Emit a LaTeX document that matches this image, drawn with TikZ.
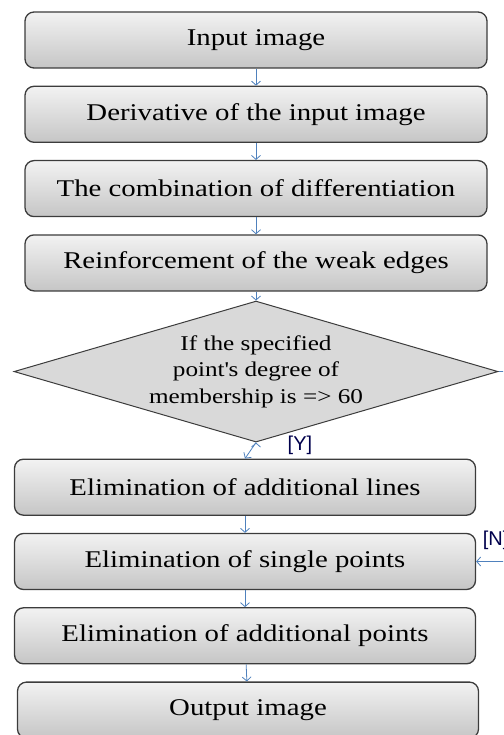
\documentclass[tikz,border=0pt]{standalone}
\usepackage{fontspec}
\setmainfont[FakeStretch=1.2]{Liberation Serif}
\newfontfamily\lblfont{Liberation Sans}
\usetikzlibrary{arrows.meta, shapes, positioning}
\definecolor{flowblue}{RGB}{79,129,189}
\definecolor{boxedge}{RGB}{60,60,60}

\begin{document}
\begin{tikzpicture}[x=1pt,y=1pt,node distance=17pt,->,>={Straight Barb[length=4pt,width=9pt]}]
	
	\tikzset{proc/.style={rectangle, rounded corners=9pt, draw=boxedge, line width=1.3pt,
			top color=gray!10, bottom color=gray!45,
			minimum width=462pt, minimum height=56pt,
			font=\fontsize{24}{27}\selectfont}}
	\tikzset{decide/.style={diamond, aspect=3.4, draw=boxedge, line width=1pt,
			fill=gray!30, inner sep=0pt, align=center,
			minimum width=484pt, minimum height=141pt,
			font=\fontsize{21}{26.5}\selectfont}}
	\tikzset{flow/.style={draw=flowblue, line width=0.8pt}}
	\tikzset{branch/.style={text=blue!30!black, font=\lblfont\fontsize{20}{22}\selectfont}}
	
	\useasboundingbox (0,0) rectangle (503,-735);
	\clip (0,0) rectangle (503,-735);
	
	\node[proc] (input) at (256,-40) {Input image};
	\node[proc, below=of input] (deriv) {Derivative of the input image};
	\node[proc, below=of deriv] (combo) {The combination of differentiation};
	\node[proc, below=of combo] (reinf) {Reinforcement of the weak edges};
	\node[decide, below=9pt of reinf] (test) {If the specified\\point\textquotesingle s degree of\\membership is => 60};
	\node[proc, below=16pt of test, xshift=-11pt, minimum width=461pt] (lines) {Elimination of additional lines};
	\node[proc, below=of lines, minimum width=461pt] (single) {Elimination of single points};
	\node[proc, below=of single, minimum width=461pt] (points) {Elimination of additional points};
	\node[proc, below=of points, minimum width=461pt, xshift=3pt] (output) {Output image};
	
	\draw[flow]
	(input) edge (deriv)
	(deriv) edge (combo)
	(combo) edge (reinf)
	(reinf) edge (test)
	(test.south) edge node[branch, at start, anchor=west, xshift=28pt, yshift=-3pt] {[Y]} (lines.north)
	(lines) edge (single)
	(single) edge (points)
	(points) edge (output);
	
	\draw[flow] (test.east) -- ++(30,0) |- (single.east)
	node[branch, anchor=south west, xshift=3pt, yshift=8pt] {[N]};
\end{tikzpicture}
\end{document}
